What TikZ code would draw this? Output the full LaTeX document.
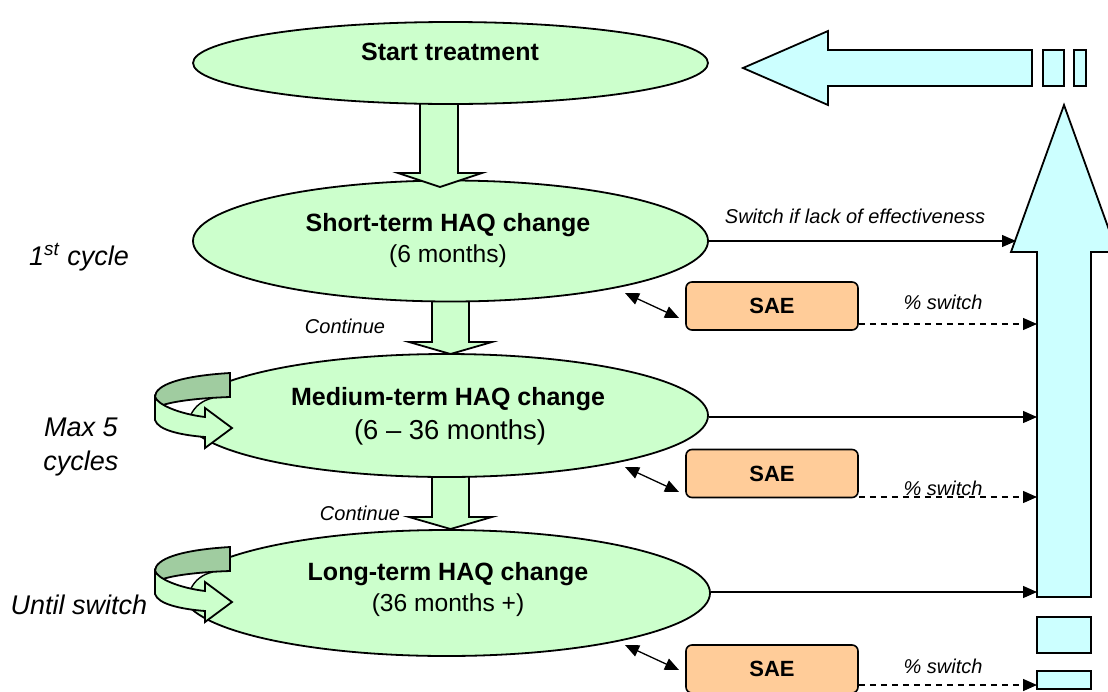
\documentclass[tikz,border=0pt]{standalone}
\usepackage{fontspec}
\setmainfont{Liberation Sans}
\usetikzlibrary{shapes.geometric,arrows.meta}

\definecolor{phasegreen}{HTML}{CCFFCC}
\definecolor{backgreen}{HTML}{A0CCA0}
\definecolor{switchcyan}{HTML}{CCFFFF}
\definecolor{saeorange}{HTML}{FFCC99}

\tikzset{
  phase/.style={ellipse, draw, fill=phasegreen, line width=0.9pt, inner sep=0pt},
  blockarr/.style={draw, line width=0.9pt, fill=phasegreen},
  switcharr/.style={draw, line width=0.9pt, fill=switchcyan},
  sae/.style={draw, rounded corners=3pt, fill=saeorange, line width=0.8pt,
    minimum width=86pt, minimum height=24pt, font=\fontsize{11}{13}\selectfont\bfseries},
  conn/.style={line width=0.65pt, -{Triangle[length=7pt,width=6pt]}},
  dashconn/.style={conn, dash pattern=on 3pt off 2.5pt},
  dblconn/.style={line width=0.65pt, {Triangle[length=7pt,width=6pt]}-{Triangle[length=7pt,width=6pt]}},
  title/.style={font=\fontsize{12.5}{15}\selectfont\bfseries},
  sub/.style={font=\fontsize{12.3}{15}\selectfont},
  note/.style={font=\fontsize{10}{12}\selectfont\itshape},
  side/.style={font=\fontsize{13.5}{17}\selectfont\itshape, align=center},
  turnarrow/.pic={
    \fill[white] (8,8) .. controls (20,4) and (45,1.5) .. (58,1) .. controls (48,3) and (40,9) .. (36,17.5) .. controls (22,14) and (13,11) .. (8,8) -- cycle;
    \draw[line width=0.7pt] (36,17.5) .. controls (40,9) and (48,3) .. (58,1);
    \draw[line width=0.9pt, fill=backgreen] (75,-24) .. controls (25,-21) and (0,-12) .. (0,0) .. controls (2,4) and (5,7) .. (8,8) .. controls (20,4) and (45,1) .. (75,0) -- cycle;
    \draw[line width=0.9pt, fill=phasegreen, line join=miter] (0,0) .. controls (3,8) and (25,17) .. (50,20) -- (50,11) -- (77,31) -- (50,51) -- (50,40) .. controls (25,38) and (3,33) .. (0,23) -- cycle;
  }
}

\begin{document}
\begin{tikzpicture}[x=0.5pt, y=-0.5pt]
  \useasboundingbox (0,0) rectangle (1108,691);
  \clip (0,0) rectangle (1108,691);

  % switch arrows on the right
  \draw[switcharr] (1037,597) -- (1037,252) -- (1011,252) -- (1064,105) -- (1117,252) -- (1091,252) -- (1091,597) -- cycle;
  \draw[switcharr] (1032,50) -- (828,50) -- (828,31) -- (743,68) -- (828,105) -- (828,86) -- (1032,86) -- cycle;
  \draw[switcharr] (1043,50) rectangle (1064,86);
  \draw[switcharr] (1074,50) rectangle (1086,86);
  \draw[switcharr] (1037,617) rectangle (1091,653);
  \draw[switcharr] (1037,671) rectangle (1091,689);
  \coordinate (swshort) at (1016,241);
  \coordinate (swmed) at (1037,417);
  \coordinate (swlong) at (1037,592);
  \coordinate (sw1) at (1037,324);
  \coordinate (sw2) at (1037,497);
  \coordinate (sw3) at (1037,685);

  % phases, bottom first
  \node[phase, minimum width=263.5pt, minimum height=63pt] (long) at (446.5,593) {};
  \draw[blockarr] (432,470) -- (432,517) -- (409,517) -- (450.5,529) -- (492,517) -- (469,517) -- (469,470) -- cycle;
  \node[phase, minimum width=261.5pt, minimum height=61.5pt] (med) at (446.5,415.5) {};
  \draw[blockarr] (432,295) -- (432,342) -- (409,342) -- (450.5,354) -- (492,342) -- (469,342) -- (469,295) -- cycle;
  \node[phase, minimum width=257.5pt, minimum height=60.5pt] (short) at (450.5,241) {};
  \draw[blockarr] (420,95) -- (420,173) -- (398,173) -- (440,187) -- (482,173) -- (458,173) -- (458,95) -- cycle;
  \node[phase, minimum width=257.5pt, minimum height=41pt] (start) at (450.5,63) {};

  % repeat loops
  \pic at (155,397) {turnarrow};
  \pic at (155,571) {turnarrow};

  % texts
  \node[title] (startlbl) at (450,52) {Start treatment};
  \node[title] (shortlbl) at (448,225) {Short-term HAQ change};
  \node[sub] (shorttime) at (448,256) {(6 months)};
  \node[title] (medlbl) at (448,399) {Medium-term HAQ change};
  \node[sub, font=\fontsize{13.7}{16}\selectfont] (medtime) at (450,432) {(6 -- 36 months)};
  \node[title] (longlbl) at (448,574) {Long-term HAQ change};
  \node[sub] (longtime) at (448,605) {(36 months +)};
  \node[note] (cont1) at (345,326) {Continue};
  \node[note] (cont2) at (360,513) {Continue};
  \node[side] (cyc1) at (79,257) {1\textsuperscript{st} cycle};
  \node[side] (cyc2) at (81,447) {Max 5\\cycles};
  \node[side] (cyc3) at (79,605) {Until switch};

  % adverse events
  \node[sae] (sae1) at (772,306) {SAE};
  \node[sae] (sae2) at (772,473.5) {SAE};
  \node[sae] (sae3) at (772,669) {SAE};
  \coordinate (d1a) at (625,293);
  \coordinate (d1b) at (679,318);
  \coordinate (d2a) at (625,467);
  \coordinate (d2b) at (679,492);
  \coordinate (d3a) at (625,645);
  \coordinate (d3b) at (679,670);
  \draw[dblconn] (d1a) -- (d1b);
  \draw[dblconn] (d2a) -- (d2b);
  \draw[dblconn] (d3a) -- (d3b);

  % switching
  \draw[conn] (short.east |- swshort) -- (swshort);
  \draw[conn] (med.east |- swmed) -- (swmed);
  \draw[conn] (long.east |- swlong) -- (swlong);
  \node[note] (swlbl) at (855,216) {Switch if lack of effectiveness};
  \draw[dashconn] (sae1.east |- sw1) -- (sw1);
  \draw[dashconn] (sae2.east |- sw2) -- (sw2);
  \draw[dashconn] (sae3.east |- sw3) -- (sw3);
  \node[note] (pct1) at (943,302) {\% switch};
  \node[note] (pct2) at (943,488) {\% switch};
  \node[note] (pct3) at (943,666) {\% switch};
\end{tikzpicture}
\end{document}
